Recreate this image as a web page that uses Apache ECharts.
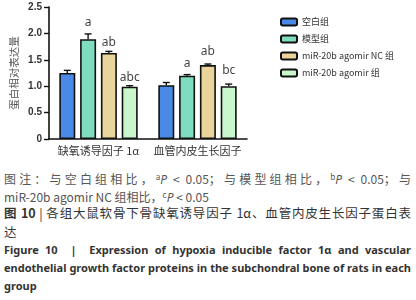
<!DOCTYPE html>
<html>
<head>
<meta charset="utf-8">
<script src="https://cdn.jsdelivr.net/npm/echarts@6/dist/echarts.min.js"></script>
<style>
    html, body {
        margin: 0;
        padding: 0;
        background: #fff;
    }
    #chart {
        position: absolute;
        left: 0;
        top: 0;
        width: 416px;
        height: 165px;
    }
    .caption {
        position: absolute;
        left: 4px;
        width: 407px;
        top: 168px;
        font-family: "Noto Sans CJK SC", "Noto Sans", sans-serif;
    }
    .caption div {
        height: 18.2px;
        line-height: 18.2px;
        white-space: nowrap;
    }
    .just {
        text-align: justify;
        text-align-last: justify;
    }
    .note {
        color: #555;
        font-size: 12px;
    }
    .title {
        color: #333;
        font-size: 12.5px;
    }
    .en {
        color: #333;
        font-size: 11px;
        font-weight: bold;
        font-family: "Noto Sans", sans-serif;
    }
    i {
        font-family: "Noto Sans", sans-serif;
    }
    sup {
        font-size: 8px;
        vertical-align: 4px;
    }
</style>
</head>
<body>
<div id="chart"></div>
<div class="caption">
    <div class="note just">图注：与空白组相比，<sup>a</sup><i>P</i> &lt; 0.05；与模型组相比，<sup>b</sup><i>P</i> &lt; 0.05；与</div>
    <div class="note">miR-20b agomir NC 组相比，<sup>c</sup><i>P</i> &lt; 0.05</div>
    <div class="title just"><b>图 10</b> | 各组大鼠软骨下骨缺氧诱导因子 1α、血管内皮生长因子蛋白表</div>
    <div class="title">达</div>
    <div class="en just">Figure 10 &nbsp;| &nbsp;Expression of hypoxia inducible factor 1α and vascular</div>
    <div class="en just">endothelial growth factor proteins in the subchondral bone of rats in each</div>
    <div class="en">group</div>
</div>
<script>
// 数据
const categories = ['缺氧诱导因子 1α', '血管内皮生长因子'];
const groupNames = ['空白组', '模型组', 'miR-20b agomir NC 组', 'miR-20b agomir 组'];
const blankVals = [1.25, 1.02];
const modelVals = [1.89, 1.20];
const ncVals = [1.63, 1.40];
const agomirVals = [0.99, 1.00];
const blankErr = [0.05, 0.05];
const modelErr = [0.10, 0.02];
const ncErr = [0.03, 0.02];
const agomirErr = [0.02, 0.04];
// 显著性标记及其位置（纵轴值）
const blankMarks = ['', ''];
const modelMarks = ['a', 'a'];
const ncMarks = ['ab', 'ab'];
const agomirMarks = ['abc', 'bc'];
const modelMarkY = [2.20, 1.42];
const ncMarkY = [1.82, 1.65];
const agomirMarkY = [1.16, 1.29];
const yTicks = [0, 0.5, 1.0, 1.5, 2.0, 2.5];

const colors = ['#4a8ae6', '#7fdcbf', '#e9d49c', '#c9f6cd'];
const BAR_W = 16;
const BAR_GAP = 0.3;

const allVals = [blankVals, modelVals, ncVals, agomirVals];
const allErr = [blankErr, modelErr, ncErr, agomirErr];
const allMarks = [blankMarks, modelMarks, ncMarks, agomirMarks];
const allMarkY = [[0, 0], modelMarkY, ncMarkY, agomirMarkY];

const myChart = echarts.init(document.getElementById('chart'));

const barSeries = groupNames.map(function (name, i) {
    return {
        name: name,
        type: 'bar',
        barWidth: BAR_W,
        barGap: (BAR_GAP * 100) + '%',
        itemStyle: {
            color: colors[i],
            borderColor: '#111',
            borderWidth: 1.6
        },
        data: allVals[i]
    };
});

// 误差线 + 标记
const errSeries = groupNames.map(function (name, i) {
    return {
        type: 'custom',
        silent: true,
        z: 5,
        data: categories.map(function (c, k) {
            return [k, allVals[i][k], allErr[i][k], allMarkY[i][k]];
        }),
        renderItem: function (params, api) {
            const k = api.value(0);
            const step = BAR_W * (1 + BAR_GAP);
            const offset = (i - 1.5) * step;
            const base = api.coord([k, api.value(1)]);
            const top = api.coord([k, api.value(1) + api.value(2)]);
            const x = base[0] + offset;
            const children = [
                {
                    type: 'line',
                    shape: {x1: x, y1: base[1], x2: x, y2: top[1]},
                    style: {stroke: '#111', lineWidth: 1.4}
                },
                {
                    type: 'line',
                    shape: {x1: x - 3.5, y1: top[1], x2: x + 3.5, y2: top[1]},
                    style: {stroke: '#111', lineWidth: 1.4}
                }
            ];
            const mark = allMarks[i][k];
            if (mark) {
                const my = api.coord([k, api.value(3)]);
                children.push({
                    type: 'text',
                    x: x,
                    y: my[1],
                    style: {
                        text: mark,
                        fill: '#444',
                        font: '12px "Noto Sans", sans-serif',
                        textAlign: 'center',
                        textVerticalAlign: 'middle'
                    }
                });
            }
            return {type: 'group', children: children};
        }
    };
});

const option = {
    animation: false,
    backgroundColor: '#fff',
    legend: {
        orient: 'vertical',
        left: 275,
        top: 11,
        itemWidth: 16,
        itemHeight: 7,
        itemGap: 5,
        textStyle: {
            fontSize: 9,
            color: '#333',
            fontFamily: '"Noto Sans CJK SC", "Noto Sans", sans-serif',
            lineHeight: 12
        },
        data: groupNames
    },
    grid: {
        left: 49,
        right: 169,
        top: 7,
        bottom: 26
    },
    xAxis: {
        type: 'category',
        data: categories,
        axisLine: {lineStyle: {color: '#111', width: 1.6}},
        axisTick: {alignWithLabel: true, length: 4, lineStyle: {color: '#111', width: 1.4}},
        axisLabel: {
            interval: 0,
            color: '#333',
            fontSize: 11,
            margin: 6,
            fontFamily: '"Noto Sans CJK SC", sans-serif'
        }
    },
    yAxis: {
        type: 'value',
        min: 0,
        max: 2.5,
        interval: 0.5,
        name: '蛋白相对表达量',
        nameLocation: 'middle',
        nameGap: 30,
        nameRotate: 90,
        nameTextStyle: {
            color: '#555',
            fontSize: 10.5,
            fontFamily: '"Noto Sans CJK SC", sans-serif'
        },
        splitLine: {show: false},
        axisLine: {show: true, lineStyle: {color: '#111', width: 1.6}},
        axisTick: {show: true, length: 5, lineStyle: {color: '#111', width: 1.4}},
        axisLabel: {
            color: '#333',
            fontSize: 10,
            fontWeight: 'bold',
            margin: 7,
            fontFamily: '"Liberation Sans", sans-serif',
            formatter: function (v) {
                return yTicks.indexOf(v) === 0 ? '0' : v.toFixed(1);
            }
        }
    },
    series: barSeries.concat(errSeries)
};

myChart.setOption(option);
</script>
</body>
</html>
